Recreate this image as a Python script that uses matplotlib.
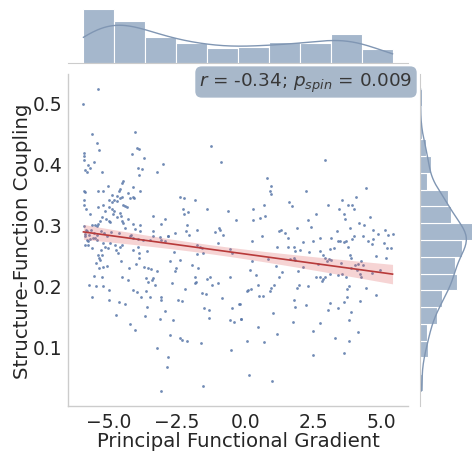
import numpy as np
import matplotlib
matplotlib.use("Agg")
import matplotlib.pyplot as plt

# ---------------- data ----------------
far_left_x = [-5.38,-5.93,-5.60,-5.45,-5.36,-5.92,-5.92,-5.92,-5.87,-5.81,-5.69,-5.26,
              -5.90,-5.87,-5.41,-5.23,-5.02,-4.53,-4.47,-4.60,-4.63,
              -5.90,-5.90,-5.85,-5.41,-5.00,-5.20,-4.90,-4.80,-4.70,
              -5.00,-4.90,-4.80,-4.85,-4.70,-5.10,-5.00,-4.97,-5.26,-5.32,
              -4.70,-4.60,-4.50,-4.60,-4.55,-4.50,-4.47,-5.60,-5.50,-5.45,-5.40,-5.92,-5.85,
              -5.87,-5.81,-5.75,-5.69,-5.57,-5.51,-5.45,
              -5.87,-5.78,-5.20,-5.14,-5.02,-4.77,-4.59,-4.53,-4.75,-4.65,
              -5.38,-5.36,-5.32,-5.26,-5.35,-5.20,-5.53,-5.26,
              -5.72,-5.48,-5.20,-5.63,-4.98,-4.98,-4.53,-4.63,-4.74]
far_left_y = [0.522,0.497,0.449,0.434,0.423,0.418,0.413,0.406,0.389,0.387,0.393,0.387,
              0.355,0.354,0.355,0.356,0.364,0.368,0.372,0.359,0.356,
              0.340,0.333,0.326,0.329,0.340,0.333,0.337,0.341,0.339,
              0.329,0.326,0.323,0.317,0.313,0.309,0.306,0.304,0.312,0.306,
              0.347,0.343,0.345,0.319,0.314,0.306,0.303,0.300,0.300,0.298,0.301,0.298,0.292,
              0.281,0.275,0.274,0.277,0.279,0.278,0.275,
              0.267,0.266,0.270,0.264,0.262,0.267,0.264,0.267,0.259,0.254,
              0.251,0.245,0.243,0.251,0.229,0.230,0.216,0.214,
              0.201,0.199,0.200,0.181,0.193,0.177,0.215,0.173,0.152]

left_x = [-4.04,-4.16,-3.96,-3.89,-3.72,-3.92,-3.89,-3.24,
          -4.47,-4.40,-4.35,-4.23,-4.10,-4.08,-4.10,-3.86,
          -4.30,-4.10,-3.85,-3.37,-4.05,-3.86,-3.37,-3.03,
          -2.39,-2.25,-1.84,-2.27,-2.25,-2.09,-2.94,-3.07,
          -2.15,-2.17,-2.58,-2.82,-3.12,
          -4.31,-4.25,-4.22,-4.10,-3.92,-3.74,-3.49,
          -4.10,-3.92,-3.89,-3.89,-3.61,-3.70,-3.55,-3.45,-3.65,-3.58,-3.43,
          -4.13,-3.98,-3.82,-3.64,-3.49,-4.41,-3.59,-3.67,-4.22,-4.04,-3.25,
          -3.37,-3.07,-2.94,-2.82,-2.61,-2.76,-2.39,-3.22,-2.54,-2.58,
          -3.37,-3.31,-2.70,-2.21,-3.10,-3.07,-2.45,-2.33,
          -2.94,-3.12,-2.64,-2.74,-2.39,-2.33,-2.15,-2.82,-2.88,-3.09]
left_y = [0.451,0.415,0.426,0.424,0.409,0.393,0.382,0.386,
          0.333,0.331,0.329,0.343,0.345,0.343,0.362,0.355,
          0.309,0.302,0.299,0.314,0.293,0.290,0.290,0.399,
          0.346,0.343,0.341,0.325,0.317,0.321,0.309,0.302,
          0.299,0.290,0.286,0.282,0.280,
          0.210,0.229,0.281,0.278,0.277,0.275,0.275,
          0.259,0.263,0.254,0.246,0.257,0.230,0.229,0.228,0.213,0.207,0.210,
          0.193,0.190,0.182,0.192,0.182,0.170,0.165,0.151,0.138,0.127,0.098,
          0.281,0.275,0.274,0.281,0.256,0.241,0.243,0.225,0.229,0.225,
          0.213,0.202,0.204,0.195,0.181,0.177,0.177,0.175,
          0.158,0.146,0.144,0.120,0.114,0.111,0.109,0.084,0.067,0.028]

mid_x = [-1.27,-0.87,-1.78,-1.39,-0.62,-0.34,-0.95,-0.93,-0.81,
         0.78,0.93,0.90,0.96,0.29,0.70,0.29,0.54,0.74,1.23,1.31,
         -1.78,-1.66,-1.60,-1.54,-1.78,-0.99,-0.56,-0.50,
         -1.72,-1.84,-1.84,-1.81,-1.39,-1.29,-1.23,-1.01,-0.56,
         -1.60,-1.44,-0.84,-0.22,-1.51,-1.32,-1.32,-0.50,-0.56,-0.40,-0.14,
         -1.62,-0.52,-1.56,
         0.23,0.62,1.18,0.84,0.26,0.18,0.38,1.33,1.23,
         0.05,0.11,0.21,0.45,0.96,0.92,1.04,0.50,0.66,
         -0.19,-0.16,1.03,0.48,1.15,0.08,0.68,0.14,0.99]
mid_y = [0.429,0.403,0.292,0.326,0.322,0.308,0.295,0.292,0.284,
         0.377,0.363,0.355,0.350,0.326,0.333,0.308,0.311,0.314,0.290,0.291,
         0.266,0.264,0.262,0.254,0.252,0.270,0.261,0.254,
         0.229,0.214,0.205,0.207,0.211,0.214,0.202,0.204,0.214,
         0.189,0.186,0.180,0.170,0.163,0.161,0.147,0.163,0.144,0.141,0.146,
         0.106,0.095,0.036,
         0.274,0.281,0.263,0.244,0.241,0.226,0.217,0.222,0.214,
         0.192,0.193,0.195,0.201,0.196,0.192,0.202,0.184,0.184,
         0.170,0.146,0.155,0.133,0.121,0.110,0.108,0.054,0.045]

right_x = [2.94,2.22,1.70,2.31,1.88,4.42,
           4.05,3.53,3.04,3.44,3.77,3.93,3.98,3.62,3.65,4.57,4.18,4.35,
           4.69,4.87,5.12,5.24,5.40,4.32,
           1.58,1.58,1.80,1.84,2.00,2.12,2.33,2.49,2.74,2.74,
           2.94,2.98,1.64,1.80,1.84,2.12,2.67,1.94,
           2.58,2.74,2.82,2.94,1.88,1.97,2.31,1.80,1.84,2.22,
           1.76,2.74,2.49,2.49,
           3.16,3.41,3.49,3.62,3.71,3.77,3.93,3.99,4.51,4.63,4.69,5.08,5.20,5.34,
           2.86,3.08,3.16,3.12,3.83,3.89,4.26,4.81,5.15,4.02,4.14,4.32,
           2.86,3.10,3.41,3.53,3.71,3.89,4.20,4.23,4.66,
           3.74,3.81,4.44,4.79,3.74,3.62,3.10,3.04,3.41,4.20,3.89,3.81,4.14,3.29,3.81,3.62]
right_y = [0.406,0.355,0.330,0.308,0.295,0.360,
           0.346,0.340,0.333,0.326,0.332,0.332,0.325,0.318,0.310,0.313,0.303,0.299,
           0.292,0.285,0.291,0.284,0.285,0.282,
           0.279,0.263,0.263,0.257,0.259,0.272,0.256,0.274,0.278,0.257,
           0.246,0.240,0.244,0.245,0.243,0.230,0.236,0.225,
           0.214,0.214,0.208,0.214,0.197,0.201,0.199,0.177,0.166,0.169,
           0.140,0.139,0.126,0.087,
           0.278,0.274,0.273,0.272,0.274,0.263,0.277,0.281,0.273,0.268,0.277,0.270,0.262,0.262,
           0.251,0.244,0.243,0.261,0.250,0.246,0.241,0.248,0.246,0.234,0.236,0.234,
           0.211,0.219,0.217,0.219,0.214,0.229,0.219,0.214,0.221,
           0.195,0.199,0.197,0.185,0.181,0.173,0.172,0.161,0.164,0.175,0.157,0.144,0.124,0.115,0.109,0.090]

# points in the crowded band around the fit line (estimated, overlapping in the picture)
band_x = [-5.88,-5.80,-5.74,-5.66,-5.55,-5.42,-5.30,-5.18,-5.06,-4.92,
          -5.62,-5.28,-4.95,-5.70,-5.15,-4.88,-5.78,-5.55,-5.48,-5.05,
          -4.62,-4.40,-4.18,-4.55,-4.02,-4.28,-3.78,
          -2.05,-1.95,-1.10,1.45,1.12,1.60,2.40,2.60,
          3.35,3.85,3.50,4.10,3.25,4.95]
band_y = [0.285,0.289,0.283,0.292,0.287,0.284,0.290,0.286,0.282,0.288,
          0.262,0.258,0.270,0.318,0.322,0.348,0.398,0.402,0.238,0.232,
          0.286,0.294,0.283,0.240,0.236,0.352,0.391,
          0.283,0.234,0.288,0.286,0.232,0.338,0.296,0.318,
          0.289,0.294,0.238,0.226,0.262,0.226]

x_label = "Principal Functional Gradient"
y_label = "Structure-Function Coupling"
stat_text = r"$r$ = -0.34; $p_{spin}$ = 0.009"
x_ticks = [-5.0, -2.5, 0.0, 2.5, 5.0]
y_ticks = [0.1, 0.2, 0.3, 0.4, 0.5]

# ---------------- assemble ----------------
x = np.array(far_left_x + left_x + mid_x + right_x + band_x)
y = np.array(far_left_y + left_y + mid_y + right_y + band_y)
n = len(x)

W, H = 472, 452
fig = plt.figure(figsize=(W / 100, H / 100), dpi=100)
ax = fig.add_axes([68 / W, 1 - 407 / H, 340 / W, 332 / H])
ax_top = fig.add_axes([68 / W, 1 - 64 / H, 340 / W, 57 / H])
ax_right = fig.add_axes([420 / W, 1 - 407 / H, 57 / W, 332 / H])

txt_col = "#262626"
spine_col = "#cccccc"
hist_col = "#a5b7cc"
kde_col = "#8096b3"
pt_col = "#5876a8"

# scatter
ax.scatter(x, y, s=4, color=pt_col, alpha=0.85, linewidths=0, zorder=2)

# regression with 95% CI
slope, inter = np.polyfit(x, y, 1)
xg = np.linspace(x.min(), x.max(), 100)
yg = inter + slope * xg
res = y - (inter + slope * x)
s = np.sqrt(np.sum(res ** 2) / (n - 2))
sxx = np.sum((x - x.mean()) ** 2)
se = s * np.sqrt(1 / n + (xg - x.mean()) ** 2 / sxx)
ax.fill_between(xg, yg - 1.97 * se, yg + 1.97 * se, color="#e06666", alpha=0.28, linewidth=0, zorder=3)
ax.plot(xg, yg, color="#b83a3a", lw=1.2, zorder=4)

xr = x.max() - x.min()
yr = y.max() - y.min()
ax.set_xlim(x.min() - 0.05 * xr, x.max() + 0.05 * xr)
ax.set_ylim(y.min() - 0.05 * yr, y.max() + 0.05 * yr)
ax.set_xticks(x_ticks)
ax.set_yticks(y_ticks)
ax.set_xticklabels([f"{t:.1f}".replace("-", "\u2212") for t in x_ticks])
ax.set_yticklabels([f"{t:.1f}" for t in y_ticks])
ax.tick_params(length=0, labelsize=13.5, labelcolor=txt_col, pad=4)
ax.set_xlabel(x_label, fontsize=14.2, color=txt_col, labelpad=0.5)
ax.set_ylabel(y_label, fontsize=14.2, color=txt_col, labelpad=0.5)
for sp in ["top", "right"]:
    ax.spines[sp].set_visible(False)
for sp in ["left", "bottom"]:
    ax.spines[sp].set_color(spine_col)
    ax.spines[sp].set_linewidth(1.0)


def kde_curve(v, grid, scale):
    bw = v.std(ddof=1) * len(v) ** (-1 / 5)
    d = np.exp(-0.5 * ((grid[:, None] - v[None, :]) / bw) ** 2).sum(1)
    d /= (len(v) * bw * np.sqrt(2 * np.pi))
    return d * len(v) * scale


# top marginal
xb = np.linspace(x.min(), x.max(), 11)
cx, _, _ = ax_top.hist(x, bins=xb, color=hist_col, edgecolor="white", linewidth=0.8)
gx = np.linspace(x.min(), x.max(), 200)
ax_top.plot(gx, kde_curve(x, gx, xb[1] - xb[0]), color=kde_col, lw=1.0)
ax_top.set_xlim(ax.get_xlim())
ax_top.set_ylim(0, cx.max() * 1.05)

# right marginal
yb = np.linspace(y.min(), y.max(), 19)
cy, _, _ = ax_right.hist(y, bins=yb, orientation="horizontal", color=hist_col, edgecolor="white", linewidth=0.8)
gy = np.linspace(y.min(), y.max(), 200)
ax_right.plot(kde_curve(y, gy, yb[1] - yb[0]), gy, color=kde_col, lw=1.0)
ax_right.set_ylim(ax.get_ylim())
ax_right.set_xlim(0, cy.max() * 1.05)

for a in (ax_top, ax_right):
    a.set_xticks([])
    a.set_yticks([])
    for sp in a.spines.values():
        sp.set_visible(False)
ax_top.spines["bottom"].set_visible(True)
ax_top.spines["bottom"].set_color(spine_col)
ax_right.spines["left"].set_visible(True)
ax_right.spines["left"].set_color(spine_col)

fig.text(306 / W, 1 - 83 / H, stat_text, ha="center", va="center", fontsize=13.2, color="#383838",
         bbox=dict(boxstyle="round,pad=0.22,rounding_size=0.35", fc="#a3b4c8", ec="none", alpha=0.95), zorder=10)

fig.savefig("out.png", dpi=100)
